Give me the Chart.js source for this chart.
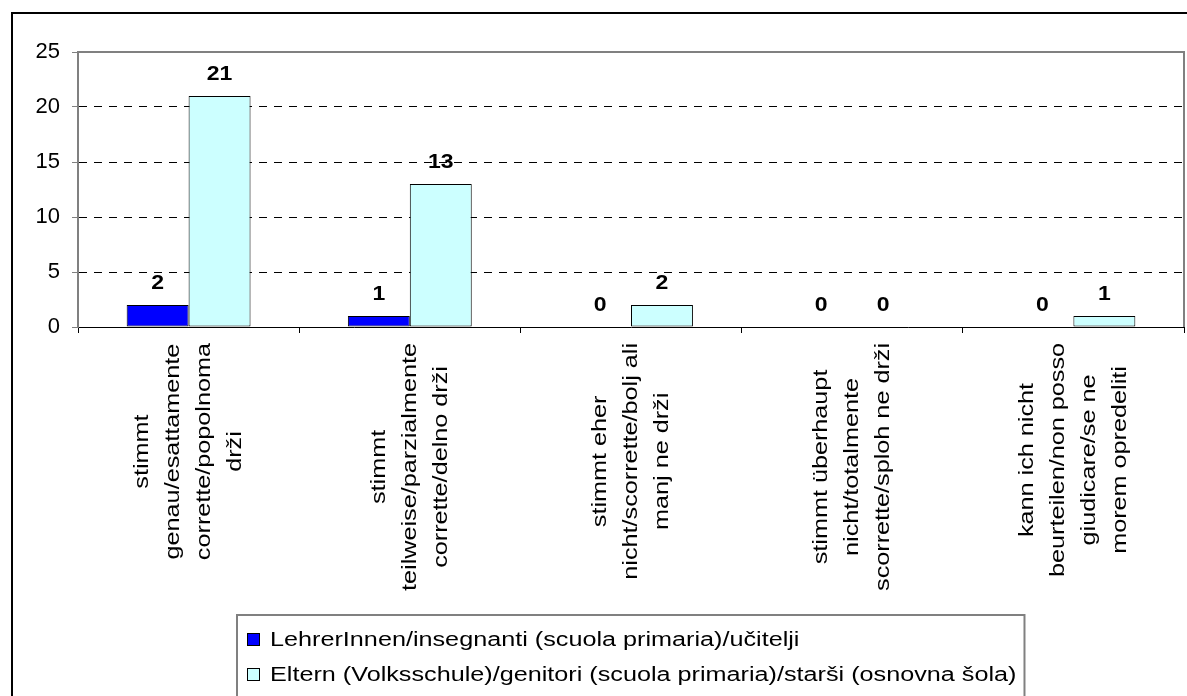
<!DOCTYPE html>
<html>
<head>
<meta charset="utf-8">
<script src="https://cdn.jsdelivr.net/npm/chart.js@4.4.1/dist/chart.umd.min.js"></script>
<style>
  html, body { margin: 0; padding: 0; background: #fff; }
  #wrap { width: 1187px; height: 696px; }
</style>
</head>
<body>
<div id="wrap"><canvas id="chart" width="1187" height="696"></canvas></div>
<script>
// Data
const categories = [
  ['stimmt', 'genau/esattamente', 'corrette/popolnoma', 'drži'],
  ['stimmt', 'teilweise/parzialmente', 'corrette/delno drži'],
  ['stimmt eher', 'nicht/scorrette/bolj ali', 'manj ne drži'],
  ['stimmt überhaupt', 'nicht/totalmente', 'scorrette/sploh ne drži'],
  ['kann ich nicht', 'beurteilen/non posso', 'giudicare/se ne', 'morem opredeliti']
];
const teachers = [2, 1, 0, 0, 0];
const parents = [21, 13, 2, 0, 1];
const seriesNames = [
  'LehrerInnen/insegnanti (scuola primaria)/učitelji',
  'Eltern (Volksschule)/genitori (scuola primaria)/starši (osnovna šola)'
];
const yTicks = [0, 5, 10, 15, 20, 25];

const FONT = '"Liberation Sans", Arial, sans-serif';
Chart.defaults.font.family = FONT;
Chart.defaults.color = '#000';

// text a bit wider than the font, like the original renderer
function wideText(ctx, text, x, y, sx) {
  ctx.save();
  ctx.translate(x, y);
  ctx.scale(sx, 1);
  ctx.fillText(text, 0, 0);
  ctx.restore();
}

const decorations = {
  id: 'decorations',
  beforeDatasetsDraw(chart) {
    const { ctx, chartArea: a } = chart;
    // plot area frame (top + right)
    ctx.save();
    ctx.strokeStyle = '#808080';
    ctx.lineWidth = 2;
    ctx.beginPath();
    ctx.moveTo(a.left, a.top);
    ctx.lineTo(a.right, a.top);
    ctx.lineTo(a.right, a.bottom);
    ctx.stroke();
    ctx.restore();
  },
  afterDraw(chart) {
    const { ctx, chartArea: a } = chart;
    const xs = chart.scales.x;

    // outer chart border (cropped at right and bottom)
    ctx.save();
    ctx.strokeStyle = '#000';
    ctx.lineWidth = 2;
    ctx.beginPath();
    ctx.moveTo(12, chart.height);
    ctx.lineTo(12, 13);
    ctx.lineTo(chart.width, 13);
    ctx.stroke();
    ctx.restore();

    // value labels
    ctx.save();
    ctx.font = 'bold 20px ' + FONT;
    ctx.fillStyle = '#000';
    ctx.textAlign = 'center';
    ctx.textBaseline = 'alphabetic';
    chart.data.datasets.forEach((ds, di) => {
      chart.getDatasetMeta(di).data.forEach((bar, i) => {
        wideText(ctx, String(ds.data[i]), bar.x, bar.y - 16, 1.15);
      });
    });
    ctx.restore();

    // category labels, rotated, lines centred
    const SX = 1.2, LH = 31;
    ctx.save();
    ctx.font = '21px ' + FONT;
    ctx.fillStyle = '#000';
    ctx.textAlign = 'center';
    ctx.textBaseline = 'middle';
    categories.forEach((lines, i) => {
      const cx = xs.getPixelForTick(i);
      const maxW = Math.max(...lines.map(l => ctx.measureText(l).width)) * SX;
      ctx.save();
      ctx.translate(cx, a.bottom + 16 + maxW / 2);
      ctx.rotate(-Math.PI / 2);
      ctx.scale(SX, 1);
      lines.forEach((l, j) => ctx.fillText(l, 0, (j - (lines.length - 1) / 2) * LH));
      ctx.restore();
    });
    ctx.restore();

    // legend box
    const LSX = 1.26;
    ctx.save();
    ctx.font = '20px ' + FONT;
    const textW = Math.max(...chart.data.datasets.map(d => ctx.measureText(d.label).width)) * LSX;
    const boxW = 33 + textW + 8;
    const x0 = Math.round((a.left + a.right) / 2 - boxW / 2);
    const y0 = 615;
    ctx.strokeStyle = '#808080';
    ctx.lineWidth = 2;
    ctx.beginPath();
    ctx.moveTo(x0, chart.height);
    ctx.lineTo(x0, y0);
    ctx.lineTo(x0 + boxW, y0);
    ctx.lineTo(x0 + boxW, chart.height);
    ctx.stroke();
    ctx.textAlign = 'left';
    ctx.textBaseline = 'alphabetic';
    chart.data.datasets.forEach((d, i) => {
      const base = y0 + 31 + i * 35;
      ctx.fillStyle = d.backgroundColor;
      ctx.fillRect(x0 + 10, base - 13, 12, 12);
      ctx.strokeStyle = '#000';
      ctx.lineWidth = 1;
      ctx.strokeRect(x0 + 10.5, base - 12.5, 12, 12);
      ctx.fillStyle = '#000';
      wideText(ctx, d.label, x0 + 33, base, LSX);
    });
    ctx.restore();
  }
};

new Chart(document.getElementById('chart'), {
  type: 'bar',
  data: {
    labels: categories,
    datasets: [
      { label: seriesNames[0], data: teachers, backgroundColor: '#0000FF', borderColor: '#000', borderWidth: 1, borderSkipped: false },
      { label: seriesNames[1], data: parents, backgroundColor: '#CCFFFF', borderColor: '#000', borderWidth: 1, borderSkipped: false }
    ]
  },
  options: {
    responsive: false,
    animation: false,
    layout: { padding: { top: 52, right: 3, left: 0, bottom: 0 } },
    datasets: { bar: { categoryPercentage: 0.56, barPercentage: 1.0 } },
    plugins: { legend: { display: false }, tooltip: { enabled: false } },
    scales: {
      x: {
        offset: true,
        ticks: { display: false },
        grid: { drawOnChartArea: false, tickLength: 6, color: '#000' },
        border: { color: '#000', width: 1 },
        afterFit: s => { s.height = 696 - 327; }
      },
      y: {
        min: 0,
        max: 25,
        afterBuildTicks: s => { s.ticks = yTicks.map(v => ({ value: v })); },
        ticks: { padding: 12, font: { size: 22 }, color: '#000' },
        grid: {
          color: c => (c.tick && (c.tick.value === 0 || c.tick.value === 25)) ? 'rgba(0,0,0,0)' : '#000',
          lineWidth: 1,
          tickLength: 6,
          tickColor: '#808080'
        },
        border: { color: '#808080', width: 2, dash: [8, 7] },
        afterFit: s => { s.width = 78; }
      }
    }
  },
  plugins: [decorations]
});
</script>
</body>
</html>
